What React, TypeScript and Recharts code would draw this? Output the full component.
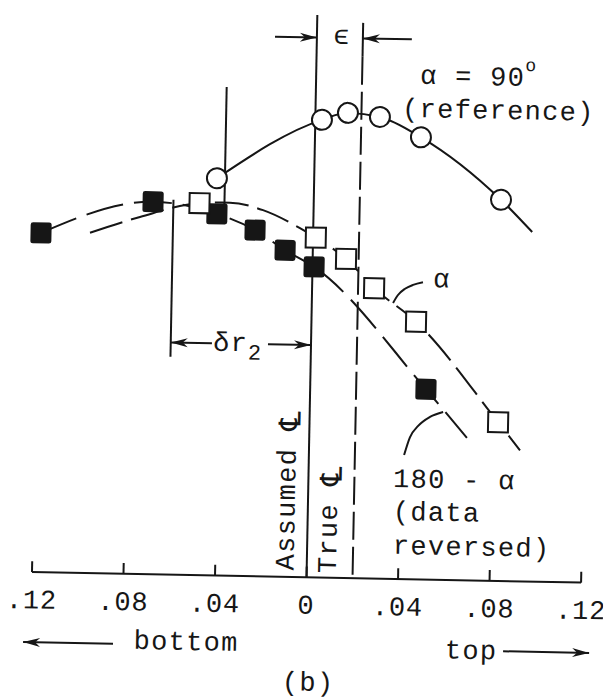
import React from "react";
import { ComposedChart, XAxis, YAxis, Line, Scatter, ReferenceLine } from "recharts";

const INK = "#161616";
const FONT = "'Liberation Mono', 'DejaVu Sans Mono', monospace";

// axis domains (x: radial position, y: arbitrary pressure units)
const X_DOMAIN: [number, number] = [-0.132367, 0.129836];
const Y_DOMAIN: [number, number] = [-21, 99];

// x axis ticks
const TICKS = [-0.12, -0.08, -0.04, 0, 0.04, 0.08, 0.12];
const TICK_TEXT = [".12", ".08", ".04", "0", ".04", ".08", ".12"];
const TICK_LABEL_Y = -5.1;

// alpha = 90 deg (reference), open circles
const REF_X = [-0.0425, 0.0029, 0.0142, 0.0282, 0.0463, 0.0818];
const REF_Y = [69.1, 79.6, 80.9, 80.3, 76.9, 66.3];
const REF_TAIL_X = [0.0957];
const REF_TAIL_Y = [60.8];

// alpha, open squares
const ALPHA_X = [-0.0499, 0.0012, 0.0146, 0.0271, 0.0457, 0.0824];
const ALPHA_Y = [64.7, 59.1, 55.5, 50.5, 44.8, 27.6];
// faired dashed curve through alpha data
const ALPHA_CURVE_X = [-0.0975, -0.0758, -0.0499, -0.0366, -0.0221, -0.0058, 0.0012, 0.0146, 0.0271, 0.0457, 0.0824, 0.0922];
const ALPHA_CURVE_Y = [59.2, 62.1, 64.7, 64.9, 63.7, 60.7, 59.1, 55.5, 50.5, 44.8, 27.6, 22.8];

// 180 - alpha (data reversed), filled squares
const REV_X = [-0.1189, -0.0702, -0.0422, -0.0254, -0.0121, 0.0007, 0.0506];
const REV_Y = [59.0, 64.8, 62.9, 60.2, 56.8, 54.0, 33.1];
const REV_TAIL_X = [0.0689];
const REV_TAIL_Y = [24.8];

// leader arcs for the curve labels
const ALPHA_LEADER_X = [0.0355, 0.0376, 0.0406, 0.0441, 0.0484];
const ALPHA_LEADER_Y = [48.0, 49.4, 50.5, 51.2, 51.7];
const REV_LEADER_X = [0.0416, 0.044, 0.0475, 0.0526, 0.0583];
const REV_LEADER_Y = [21.6, 24.7, 26.7, 28.3, 29.2];

// centre lines
const ASSUMED_CL = 0;
const TRUE_CL = 0.0201;

// guide segments [x, yTop, yBottom]
const GUIDES: [number, number, number][] = [
  [-0.039, 85.0, 70.2],
  [-0.039, 68.0, 64.5],
  [-0.0613, 65.2, 37.9],
];

// dimension arrows [xFrom, xTo, y]
const ARROWS: [number, number, number][] = [
  [-0.0183, 0, 93.9],
  [0.0415, 0.0201, 93.9],
  [-0.0433, -0.0613, 40.4],
  [-0.0188, 0, 40.4],
  [-0.084, -0.1233, -12.2],
  [0.0865, 0.1241, -12.2],
];

type Lab = { text: string; x: number; y: number; anchor?: "start" | "middle" | "end"; rotate?: number; sup?: string; sub?: string; sym?: string };
const LABELS: Lab[] = [
  { text: "α = 90", sup: "o", x: 0.0454, y: 87.4, anchor: "start" },
  { text: "(reference)", x: 0.0378, y: 81.6, anchor: "start" },
  { text: "α", x: 0.0567, y: 52.1 },
  { text: "180 - α", x: 0.037, y: 17.2, anchor: "start" },
  { text: "(data", x: 0.0372, y: 11.5, anchor: "start" },
  { text: "reversed)", x: 0.0375, y: 5.6, anchor: "start" },
  { text: "ϵ", x: 0.011, y: 94.1 },
  { text: "δr", sub: "2", x: -0.0428, y: 40.3, anchor: "start" },
  { text: "Assumed ", sym: "℄", x: -0.0088, y: 15.1, rotate: -90 },
  { text: "True ", sym: "℄", x: 0.0097, y: 10.2, rotate: -90 },
  { text: "bottom", x: -0.0521, y: -11.8 },
  { text: "top", x: 0.0725, y: -12.4 },
  { text: "(b)", x: 0.0016, y: -18.5 },
];

const pts = (xs: number[], ys: number[]) => xs.map((x, i) => ({ x, y: ys[i] }));

const refPts = pts(REF_X, REF_Y);
const refCurve = pts([...REF_X, ...REF_TAIL_X], [...REF_Y, ...REF_TAIL_Y]);
const alphaPts = pts(ALPHA_X, ALPHA_Y);
const alphaCurve = pts(ALPHA_CURVE_X, ALPHA_CURVE_Y);
const revPts = pts(REV_X, REV_Y);
const revCurve = pts([...REV_X, ...REV_TAIL_X], [...REV_Y, ...REV_TAIL_Y]);
const alphaLeader = pts(ALPHA_LEADER_X, ALPHA_LEADER_Y);
const revLeader = pts(REV_LEADER_X, REV_LEADER_Y);
const arrowHeads = ARROWS.map(([a, b, y]) => ({ x: b, y, dir: b > a ? 1 : -1 }));
const tickLabels = TICKS.map((t, i) => ({ x: t, y: TICK_LABEL_Y, text: TICK_TEXT[i], tick: true }));

const CircleMark = (p: any) => <circle cx={p.cx} cy={p.cy} r={10} fill="#fff" stroke={INK} strokeWidth={2} />;
const OpenSquare = (p: any) => (
  <rect x={p.cx - 10} y={p.cy - 10} width={20} height={20} fill="#fff" stroke={INK} strokeWidth={2} />
);
const FilledSquare = (p: any) => (
  <rect x={p.cx - 10.5} y={p.cy - 10.5} width={21} height={21} rx={2.5} fill={INK} />
);
const ArrowHead = (p: any) => {
  const d = p.payload.dir;
  const { cx, cy } = p;
  return (
    <polygon
      points={`${cx},${cy} ${cx - d * 17},${cy - 4.5} ${cx - d * 12},${cy} ${cx - d * 17},${cy + 4.5}`}
      fill={INK}
    />
  );
};
const TextMark = (p: any) => {
  const { cx, cy, payload } = p;
  const rot = payload.rotate ? `rotate(${payload.rotate} ${cx} ${cy})` : undefined;
  return (
    <text
      x={cx}
      y={cy}
      transform={rot}
      textAnchor={payload.anchor ?? "middle"}
      dominantBaseline="central"
      fontFamily={FONT}
      fontSize={27}
      letterSpacing={payload.tick ? 0.8 : 1.3}
      fill={INK}
    >
      {payload.text}
      {payload.sym ? (
        <tspan fontFamily="'DejaVu Sans', sans-serif" fontSize={30}>
          {payload.sym}
        </tspan>
      ) : null}
      {payload.sup ? (
        <tspan fontSize={18} dy={-13}>
          {payload.sup}
        </tspan>
      ) : null}
      {payload.sub ? (
        <tspan fontSize={22} dy={9}>
          {payload.sub}
        </tspan>
      ) : null}
    </text>
  );
};

export default function App() {
  return (
    <div style={{ position: "absolute", left: 0, top: 0, width: 609, height: 699, overflow: "hidden", background: "#fff" }}>
      <div
        style={{
          position: "absolute",
          left: 8,
          top: 8,
          width: 600,
          height: 690,
          transform: "rotate(1.1deg)",
          transformOrigin: "296px 342px",
        }}
      >
        <ComposedChart width={600} height={690} margin={{ top: 0, right: 0, bottom: 0, left: 0 }} style={{ overflow: "visible" }}>
          <XAxis type="number" dataKey="x" domain={X_DOMAIN} hide />
          <YAxis type="number" domain={Y_DOMAIN} hide />

          {/* fitted curves */}
          <Line data={refCurve} dataKey="y" type="monotone" dot={false} activeDot={false} stroke={INK} strokeWidth={2} isAnimationActive={false} />
          <Line data={alphaCurve} dataKey="y" type="monotone" dot={false} activeDot={false} stroke={INK} strokeWidth={2} strokeDasharray="34 9" isAnimationActive={false} />
          <Line data={revCurve} dataKey="y" type="monotone" dot={false} activeDot={false} stroke={INK} strokeWidth={2} strokeDasharray="38 11" isAnimationActive={false} />
          <Line data={alphaLeader} dataKey="y" type="monotone" dot={false} activeDot={false} stroke={INK} strokeWidth={2} isAnimationActive={false} />
          <Line data={revLeader} dataKey="y" type="monotone" dot={false} activeDot={false} stroke={INK} strokeWidth={2} isAnimationActive={false} />

          {/* guide lines */}
          {GUIDES.map(([x, y1, y2], i) => (
            <ReferenceLine key={`g${i}`} segment={[{ x, y: y1 }, { x, y: y2 }]} stroke={INK} strokeWidth={2} />
          ))}

          {/* markers */}
          <Scatter data={refPts} dataKey="y" shape={CircleMark} isAnimationActive={false} />
          <Scatter data={revPts} dataKey="y" shape={FilledSquare} isAnimationActive={false} />
          <Scatter data={alphaPts} dataKey="y" shape={OpenSquare} isAnimationActive={false} />

          {/* centre lines */}
          <ReferenceLine segment={[{ x: ASSUMED_CL, y: 97.8 }, { x: ASSUMED_CL, y: 0 }]} stroke={INK} strokeWidth={2} />
          <ReferenceLine segment={[{ x: TRUE_CL, y: 96.6 }, { x: TRUE_CL, y: 90.7 }]} stroke={INK} strokeWidth={2} />
          <ReferenceLine segment={[{ x: TRUE_CL, y: 90.7 }, { x: TRUE_CL, y: 0 }]} stroke={INK} strokeWidth={2} strokeDasharray="28 7" />

          {/* x axis */}
          <ReferenceLine segment={[{ x: TICKS[0], y: 0 }, { x: TICKS[TICKS.length - 1], y: 0 }]} stroke={INK} strokeWidth={2} />
          {TICKS.map((t) => (
            <ReferenceLine key={`t${t}`} segment={[{ x: t, y: 0 }, { x: t, y: 1.9 }]} stroke={INK} strokeWidth={2} />
          ))}

          {/* dimension arrows */}
          {ARROWS.map(([a, b, y], i) => (
            <ReferenceLine key={`a${i}`} segment={[{ x: a, y }, { x: b, y }]} stroke={INK} strokeWidth={2} />
          ))}
          <Scatter data={arrowHeads} dataKey="y" shape={ArrowHead} isAnimationActive={false} />

          {/* texts */}
          <Scatter data={tickLabels} dataKey="y" shape={TextMark} isAnimationActive={false} />
          <Scatter data={LABELS} dataKey="y" shape={TextMark} isAnimationActive={false} />
        </ComposedChart>
      </div>
    </div>
  );
}
